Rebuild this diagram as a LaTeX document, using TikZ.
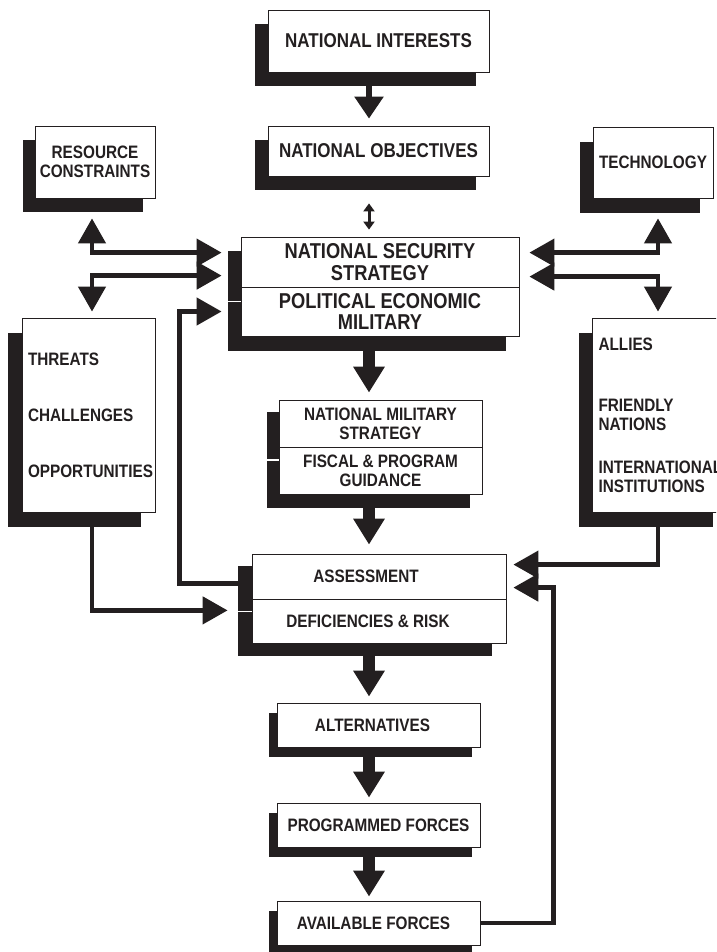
\documentclass[tikz,border=0pt]{standalone}
\usepackage{fontspec}
\setmainfont{Liberation Sans}[FakeStretch=0.85]
\usetikzlibrary{arrows.meta,shadows}
\definecolor{ink}{RGB}{35,31,32}

\begin{document}
\begin{tikzpicture}[x=1pt, y=-1pt, >={Triangle[length=25pt,width=27pt]},
  box/.style={draw=ink, line width=0.8pt, fill=white, inner sep=0pt, align=center,
    text=ink, font=\bfseries\fontsize{18}{19}\selectfont},
  big/.style={font=\bfseries\fontsize{20}{20}\selectfont},
  huge/.style={font=\bfseries\fontsize{21.5}{21.5}\selectfont},
  listbox/.style={box, align=left, text width=#1},
  shade/.style 2 args={general shadow={fill=ink, shadow xshift=#1, shadow yshift=#2}},
  link/.style={draw=ink, line width=4.5pt},
  flow/.style={draw=ink, line width=12pt, -{Triangle[length=26pt,width=30pt]}}]
    \clip (0,0) rectangle (716,952);
    \coordinate (spine) at (369,0);
    \coordinate (lcol) at (92,0);
    \coordinate (rcol) at (658,0);
    \node[box, big, shade={-13pt}{-14pt}, minimum width=221, minimum height=62] (ni) at (378.5,41) {NATIONAL INTERESTS};
    \node[box, big, shade={-13pt}{-14pt}, minimum width=221, minimum height=50] (no) at (378.5,151) {NATIONAL OBJECTIVES};
    \node[box, shade={-12pt}{-14pt}, minimum width=120, minimum height=72] (rc) at (95,162) {RESOURCE\\CONSTRAINTS};
    \node[box, shade={-13pt}{-15pt}, minimum width=120, minimum height=71] (tech) at (653,162.5) {TECHNOLOGY};
    \node[box, huge, shade={-13pt}{-14pt}, minimum width=278, minimum height=50] (nss) at (380,262) {NATIONAL SECURITY\\STRATEGY};
    \node[box, huge, shade={-13pt}{-15pt}, minimum width=278, minimum height=49] (pem) at (380,311.5) {POLITICAL ECONOMIC\\MILITARY};
    \node[listbox=121pt, shade={-14pt}{-15pt}, minimum width=133, minimum height=194] (thr) at (88.5,415) {THREATS\\[37pt]CHALLENGES\\[37pt]OPPORTUNITIES};
    \node[listbox=121pt, shade={-13pt}{-15pt}, minimum width=134, minimum height=194] (all) at (659,415) {ALLIES\\[42pt]FRIENDLY\\NATIONS\\[24pt]INTERNATIONAL\\INSTITUTIONS};
    \node[box, shade={-12pt}{-12pt}, minimum width=203, minimum height=47] (nms) at (380.5,423.5) {NATIONAL MILITARY\\STRATEGY};
    \node[box, shade={-12pt}{-14pt}, minimum width=203, minimum height=47] (gdn) at (380.5,470.5) {FISCAL \& PROGRAM\\GUIDANCE};
    \node[box, shade={-14pt}{-12pt}, minimum width=254, minimum height=45] (ass) at (379,576.5) {\kern-26pt ASSESSMENT};
    \node[box, shade={-14pt}{-13pt}, minimum width=254, minimum height=44] (def) at (379,621) {\kern-22pt DEFICIENCIES \& RISK};
    \node[box, shade={-8pt}{-10pt}, minimum width=203, minimum height=44] (alt) at (378.5,725) {\kern-12pt ALTERNATIVES};
    \node[box, shade={-8pt}{-10pt}, minimum width=203, minimum height=44] (pf) at (378.5,825) {PROGRAMMED FORCES};
    \node[box, shade={-8pt}{-10pt}, minimum width=203, minimum height=44] (af) at (378.5,923) {\kern-10pt AVAILABLE FORCES};
    \draw[ink, line width=6pt, -{Triangle[length=22pt,width=28pt]}, shorten >=7pt] (ni.south -| spine) -- (no.north -| spine);
    \draw[ink, line width=3pt, {Triangle[length=8pt,width=11pt]}-{Triangle[length=8pt,width=11pt]}, shorten <=27pt, shorten >=7pt] (no.south -| spine) -- (nss.north -| spine);
    \draw[flow, shorten >=7pt] (pem.south -| spine) -- (nms.north -| spine);
    \draw[flow, shorten >=9pt] (gdn.south -| spine) -- (ass.north -| spine);
    \draw[flow, shorten >=6pt] (def.south -| spine) -- (alt.north -| spine);
    \draw[flow, shorten >=5pt] (alt.south -| spine) -- (pf.north -| spine);
    \draw[flow, shorten >=4pt] (pf.south -| spine) -- (af.north -| spine);
    \draw[link, <->, shorten <=20pt, shorten >=19pt] (rc.south -| lcol) |- ([yshift=-16pt]nss.north west);
    \draw[link, <->, shorten <=19pt, shorten >=6pt] ([yshift=-39pt]nss.north west) -| (thr.north -| lcol);
    \draw[link, <->, shorten <=20pt, shorten >=10pt] (tech.south -| rcol) |- ([yshift=-16pt]nss.north east);
    \draw[link, <->, shorten <=10pt, shorten >=6pt] ([yshift=-40pt]nss.north east) -| (all.north -| rcol);
    \draw[link, ->, shorten >=24pt] (thr.south -| lcol) |- ([yshift=33pt]def.south west);
    \draw[link, ->, shorten >=19pt] ([yshift=-30pt]ass.north west) -- ++(-72,0) |- (pem.west);
    \draw[link, ->, shorten >=7pt] (all.south -| rcol) |- ([yshift=-11pt]ass.north east);
    \draw[link, ->, shorten >=7pt] (af.east) -- ++(73,0) |- ([yshift=-34pt]ass.north east);
\end{tikzpicture}
\end{document}
